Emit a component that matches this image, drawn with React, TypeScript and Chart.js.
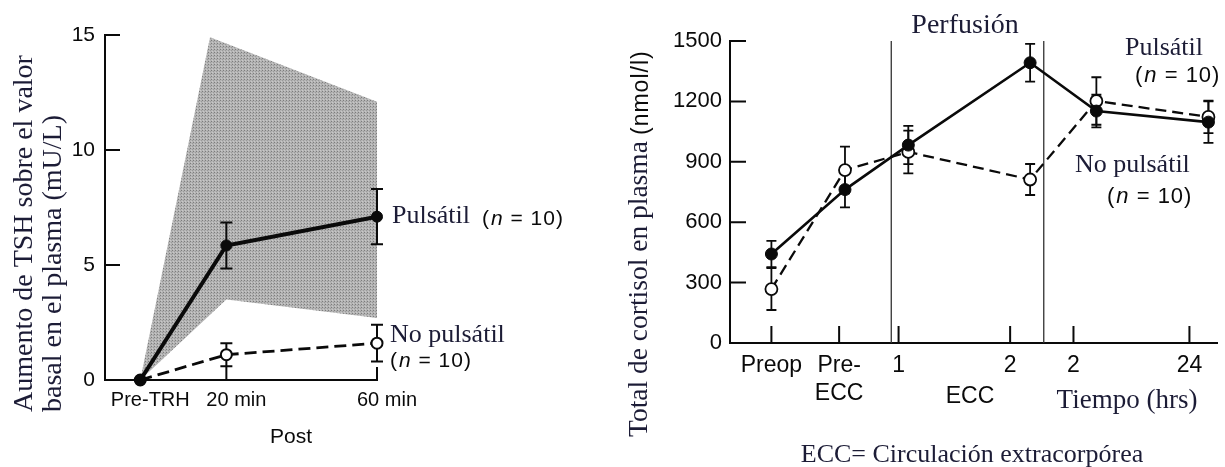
import React, { useEffect, useRef } from "react";
import { Chart, registerables } from "chart.js";

Chart.register(...registerables);

// ---------------- Left panel: TSH ----------------
const tshLabels = ["Pre-TRH", "20 min", "60 min"];
const tshX = [0, 1, 2.75];
const tshYTicks = [0, 5, 10, 15];
const tshPulsatil = [0, 5.85, 7.1];
const tshPulsatilErr = [0, 1.0, 1.2];
const tshNoPulsatil = [0, 1.1, 1.6];
const tshNoPulsatilErr = [0, 0.5, 0.8];
const tshRangeUpperX = [0, 0.81, 2.75];
const tshRangeUpper = [0, 14.9, 12.1];
const tshRangeLowerX = [0, 1, 2.75];
const tshRangeLower = [0, 3.5, 2.7];

// ---------------- Right panel: cortisol ----------------
const cortTickX = [0.85, 2.24, 3.46, 5.75, 7.05, 9.43];
const cortTickLabels = [["Preop"], ["Pre-", "ECC"], ["1"], ["2"], ["2"], ["24"]];
const cortYTicks = [0, 300, 600, 900, 1200, 1500];
const cortX = [0.85, 2.36, 3.66, 6.16, 7.52, 9.82];
const cortPulsatil = [442, 762, 983, 1392, 1152, 1097];
const cortPulsatilErr = [65, 88, 95, 94, 81, 103];
const cortNoPulsatil = [268, 859, 949, 812, 1202, 1123];
const cortNoPulsatilErr = [104, 116, 106, 77, 118, 81];
const perfusionX = [3.31, 6.44];

const SANS = "'Liberation Sans', Arial, Helvetica, sans-serif";
const SERIF = "'Liberation Serif', 'Times New Roman', serif";
const INK = "#0a0a0a";
const NAVY = "#1c1c36";

const toXY = (xs: number[], ys: number[]) => xs.map((x, i) => ({ x, y: ys[i] }));

function makeStipple(): CanvasPattern | string {
  const c = document.createElement("canvas");
  c.width = 3;
  c.height = 3;
  const g = c.getContext("2d");
  if (!g) return "#a8a8a8";
  g.fillStyle = "#b4b4b4";
  g.fillRect(0, 0, 3, 3);
  g.fillStyle = "#7c7c7c";
  g.fillRect(1, 1, 1, 1);
  g.fillStyle = "#9a9a9a";
  g.fillRect(0, 2, 1, 1);
  g.fillStyle = "#c8c8c8";
  g.fillRect(2, 0, 1, 1);
  const p = g.createPattern(c, "repeat");
  return p || "#a8a8a8";
}

function drawN(ctx: CanvasRenderingContext2D, x: number, y: number, size: number) {
  ctx.save();
  ctx.fillStyle = INK;
  ctx.textAlign = "left";
  ctx.textBaseline = "alphabetic";
  (ctx as any).letterSpacing = "1px";
  ctx.font = `${size}px ${SANS}`;
  let cx = x;
  ctx.fillText("(", cx, y);
  cx += ctx.measureText("(").width + 1;
  ctx.font = `italic ${size}px ${SANS}`;
  ctx.fillText("n", cx, y);
  cx += ctx.measureText("n").width;
  ctx.font = `${size}px ${SANS}`;
  ctx.fillText(" = 10)", cx, y);
  ctx.restore();
}

function text(
  ctx: CanvasRenderingContext2D,
  s: string,
  x: number,
  y: number,
  font: string,
  color: string,
  align: CanvasTextAlign = "left",
  rotate = false,
  spacing = "0px"
) {
  ctx.save();
  ctx.font = font;
  ctx.fillStyle = color;
  ctx.textAlign = align;
  ctx.textBaseline = "alphabetic";
  (ctx as any).letterSpacing = spacing;
  if (rotate) {
    ctx.translate(x, y);
    ctx.rotate(-Math.PI / 2);
    ctx.fillText(s, 0, 0);
  } else {
    ctx.fillText(s, x, y);
  }
  ctx.restore();
}

type ErrSpec = { index: number; errors: number[]; cap: number; width: number };

function errorBars(specs: ErrSpec[], drawAtIndex: number) {
  return {
    id: "errorBars",
    beforeDatasetDraw(chart: any, args: any) {
      if (args.index !== drawAtIndex) return;
      const ctx: CanvasRenderingContext2D = chart.ctx;
      const yScale = chart.scales.y;
      ctx.save();
      ctx.strokeStyle = INK;
      for (const s of specs) {
        const meta = chart.getDatasetMeta(s.index);
        const ds = chart.data.datasets[s.index];
        ctx.lineWidth = s.width;
        meta.data.forEach((pt: any, j: number) => {
          const e = s.errors[j];
          if (!e) return;
          const v = (ds.data[j] as any).y;
          const yTop = yScale.getPixelForValue(v + e);
          const yBot = yScale.getPixelForValue(v - e);
          ctx.beginPath();
          ctx.moveTo(pt.x, yTop);
          ctx.lineTo(pt.x, yBot);
          ctx.moveTo(pt.x - s.cap, yTop);
          ctx.lineTo(pt.x + s.cap, yTop);
          ctx.moveTo(pt.x - s.cap, yBot);
          ctx.lineTo(pt.x + s.cap, yBot);
          ctx.stroke();
        });
      }
      ctx.restore();
    },
  };
}

export default function App() {
  const leftRef = useRef<HTMLCanvasElement | null>(null);
  const rightRef = useRef<HTMLCanvasElement | null>(null);

  useEffect(() => {
    if (!leftRef.current || !rightRef.current) return;
    const stipple = makeStipple();

    // ---------- Left chart ----------
    const leftDecor = {
      id: "leftDecor",
      afterDraw(chart: any) {
        const ctx: CanvasRenderingContext2D = chart.ctx;
        const { left, bottom } = chart.chartArea;
        const ys = chart.scales.y;
        const xs = chart.scales.x;
        ctx.save();
        ctx.strokeStyle = INK;
        ctx.lineWidth = 2;
        ctx.beginPath();
        tshYTicks.forEach((t) => {
          const py = ys.getPixelForValue(t);
          ctx.moveTo(left, py);
          ctx.lineTo(left + 15, py);
        });
        tshX.slice(1).forEach((t) => {
          const px = xs.getPixelForValue(t);
          ctx.moveTo(px, bottom);
          ctx.lineTo(px, bottom - 13);
        });
        ctx.stroke();
        ctx.restore();

        text(ctx, "Aumento de TSH sobre el valor", 32, 412, `28px ${SERIF}`, NAVY, "left", true);
        text(ctx, "basal en el plasma (mU/L)", 61, 412, `28px ${SERIF}`, NAVY, "left", true);
        text(ctx, "Pulsátil", 392, 223, `26px ${SERIF}`, NAVY);
        drawN(ctx, 482, 225, 21);
        text(ctx, "No pulsátil", 390, 342, `26px ${SERIF}`, NAVY);
        drawN(ctx, 390, 367, 21);
        text(ctx, "Post", 291, 443, `21px ${SANS}`, INK, "center");
      },
    };

    const left = new Chart(leftRef.current, {
      type: "line",
      data: {
        datasets: [
          {
            label: "Pulsátil",
            data: toXY(tshX, tshPulsatil),
            borderColor: INK,
            borderWidth: 4,
            pointRadius: 5.5,
            pointBackgroundColor: INK,
            pointBorderColor: INK,
            pointBorderWidth: 1,
            fill: false,
            clip: false as any,
            order: 0,
          },
          {
            label: "No pulsátil",
            data: toXY(tshX, tshNoPulsatil),
            borderColor: INK,
            borderWidth: 2.8,
            borderDash: [12, 6],
            pointRadius: 5.5,
            pointBackgroundColor: "#ffffff",
            pointBorderColor: INK,
            pointBorderWidth: 2,
            fill: false,
            clip: false as any,
            order: 0,
          },
          {
            label: "Rango inferior",
            data: toXY(tshRangeLowerX, tshRangeLower),
            borderWidth: 0,
            borderColor: "rgba(0,0,0,0)",
            pointRadius: 0,
            fill: false,
            order: 10,
          },
          {
            label: "Rango superior",
            data: toXY(tshRangeUpperX, tshRangeUpper),
            borderWidth: 0,
            borderColor: "rgba(0,0,0,0)",
            backgroundColor: stipple as any,
            pointRadius: 0,
            fill: "-1",
            order: 10,
          },
        ],
      },
      options: {
        animation: false,
        responsive: false,
        maintainAspectRatio: false,
        layout: { padding: { top: 35, right: 223, left: 0, bottom: 0 } },
        plugins: {
          legend: { display: false },
          tooltip: { enabled: false },
          filler: { propagate: false },
        },
        scales: {
          x: {
            type: "linear",
            min: -0.41,
            max: 2.75,
            afterFit: (s: any) => {
              s.height = 87;
            },
            afterBuildTicks: (s: any) => {
              s.ticks = tshX.map((v) => ({ value: v }));
            },
            ticks: {
              callback: (_v: any, i: number) => tshLabels[i],
              font: { family: SANS, size: 20 },
              color: INK,
              padding: 8,
              labelOffset: 10,
              autoSkip: false,
              maxRotation: 0,
            },
            grid: { display: false, drawTicks: false },
            border: { display: true, color: INK, width: 2 },
          },
          y: {
            type: "linear",
            min: 0,
            max: 15,
            afterFit: (s: any) => {
              s.width = 105;
            },
            afterBuildTicks: (s: any) => {
              s.ticks = tshYTicks.map((v) => ({ value: v }));
            },
            ticks: {
              callback: (v: any) => String(v),
              font: { family: SANS, size: 21 },
              color: INK,
              padding: 10,
            },
            grid: { display: false, drawTicks: false },
            border: { display: true, color: INK, width: 2 },
          },
        },
      },
      plugins: [
        errorBars(
          [
            { index: 0, errors: tshPulsatilErr, cap: 6, width: 2 },
            { index: 1, errors: tshNoPulsatilErr, cap: 6, width: 2 },
          ],
          1
        ),
        leftDecor,
      ],
    });

    // ---------- Right chart ----------
    const rightDecor = {
      id: "rightDecor",
      beforeDatasetsDraw(chart: any) {
        const ctx: CanvasRenderingContext2D = chart.ctx;
        const { top, bottom } = chart.chartArea;
        const xs = chart.scales.x;
        ctx.save();
        ctx.strokeStyle = "#333333";
        ctx.lineWidth = 1.3;
        ctx.beginPath();
        perfusionX.forEach((t) => {
          const px = xs.getPixelForValue(t);
          ctx.moveTo(px, top);
          ctx.lineTo(px, bottom);
        });
        ctx.stroke();
        ctx.restore();
      },
      afterDraw(chart: any) {
        const ctx: CanvasRenderingContext2D = chart.ctx;
        const { left, bottom } = chart.chartArea;
        const ys = chart.scales.y;
        const xs = chart.scales.x;
        ctx.save();
        ctx.strokeStyle = INK;
        ctx.lineWidth = 2;
        ctx.beginPath();
        cortYTicks.forEach((t) => {
          const py = ys.getPixelForValue(t);
          ctx.moveTo(left, py);
          ctx.lineTo(left + 16, py);
        });
        cortTickX.forEach((t) => {
          const px = xs.getPixelForValue(t);
          ctx.moveTo(px, bottom);
          ctx.lineTo(px, bottom - 17);
        });
        ctx.stroke();
        ctx.restore();

        text(ctx, "Total de cortisol en plasma", 47, 437, `27.5px ${SERIF}`, NAVY, "left", true);
        text(ctx, "(nmol/l)", 48, 135, `23px ${SANS}`, INK, "left", true, "1px");
        text(ctx, "Perfusión", 365, 33, `28px ${SERIF}`, NAVY, "center");
        text(ctx, "Pulsátil", 525, 55, `26px ${SERIF}`, NAVY);
        drawN(ctx, 535, 82, 22);
        text(ctx, "No pulsátil", 475, 172, `26px ${SERIF}`, NAVY);
        drawN(ctx, 507, 203, 22);
        text(ctx, "ECC", 370, 403, `23px ${SANS}`, INK, "center");
        text(ctx, "Tiempo (hrs)", 527, 408, `27px ${SERIF}`, NAVY, "center");
        text(ctx, "ECC= Circulación extracorpórea", 372, 462, `26px ${SERIF}`, NAVY, "center");
      },
    };

    const right = new Chart(rightRef.current, {
      type: "line",
      data: {
        datasets: [
          {
            label: "Pulsátil",
            data: toXY(cortX, cortPulsatil),
            borderColor: INK,
            borderWidth: 2.6,
            pointRadius: 6,
            pointBackgroundColor: INK,
            pointBorderColor: INK,
            pointBorderWidth: 1,
            fill: false,
            clip: false as any,
          },
          {
            label: "No pulsátil",
            data: toXY(cortX, cortNoPulsatil),
            borderColor: INK,
            borderWidth: 2.3,
            borderDash: [11, 6],
            pointRadius: 6,
            pointBackgroundColor: "#ffffff",
            pointBorderColor: INK,
            pointBorderWidth: 1.8,
            fill: false,
            clip: false as any,
          },
        ],
      },
      options: {
        animation: false,
        responsive: false,
        maintainAspectRatio: false,
        layout: { padding: { top: 41, right: 3, left: 0, bottom: 0 } },
        plugins: { legend: { display: false }, tooltip: { enabled: false } },
        scales: {
          x: {
            type: "linear",
            min: 0,
            max: 10,
            afterFit: (s: any) => {
              s.height = 124;
            },
            afterBuildTicks: (s: any) => {
              s.ticks = cortTickX.map((v) => ({ value: v }));
            },
            ticks: {
              callback: (_v: any, i: number) => cortTickLabels[i],
              font: { family: SANS, size: 23, lineHeight: 1.25 },
              color: INK,
              padding: 8,
              autoSkip: false,
              maxRotation: 0,
            },
            grid: { display: false, drawTicks: false },
            border: { display: true, color: INK, width: 2 },
          },
          y: {
            type: "linear",
            min: 0,
            max: 1500,
            afterFit: (s: any) => {
              s.width = 130;
            },
            afterBuildTicks: (s: any) => {
              s.ticks = cortYTicks.map((v) => ({ value: v }));
            },
            ticks: {
              callback: (v: any) => String(v),
              font: { family: SANS, size: 22 },
              color: INK,
              padding: 8,
            },
            grid: { display: false, drawTicks: false },
            border: { display: true, color: INK, width: 2 },
          },
        },
      },
      plugins: [
        errorBars(
          [
            { index: 0, errors: cortPulsatilErr, cap: 5, width: 1.8 },
            { index: 1, errors: cortNoPulsatilErr, cap: 5, width: 1.8 },
          ],
          1
        ),
        rightDecor,
      ],
    });

    return () => {
      left.destroy();
      right.destroy();
    };
  }, []);

  return (
    <div
      style={{
        position: "absolute",
        left: 0,
        top: 0,
        width: 1225,
        height: 467,
        background: "#ffffff",
        overflow: "hidden",
      }}
    >
      <canvas
        ref={leftRef}
        width={600}
        height={467}
        style={{ position: "absolute", left: 0, top: 0, width: 600, height: 467 }}
      />
      <canvas
        ref={rightRef}
        width={625}
        height={467}
        style={{ position: "absolute", left: 600, top: 0, width: 625, height: 467 }}
      />
    </div>
  );
}
